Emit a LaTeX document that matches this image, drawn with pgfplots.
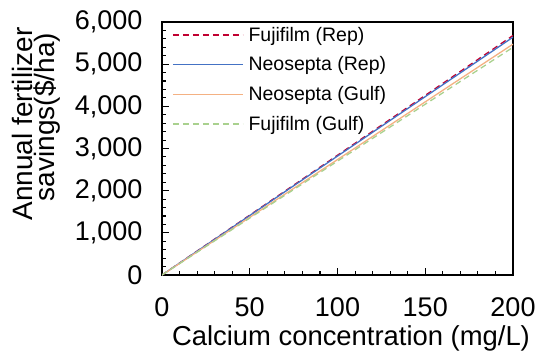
\documentclass[border=0pt]{standalone}
\usepackage{pgfplots}
\pgfplotsset{compat=1.18}
\usepackage{fontspec}
\setmainfont{Liberation Sans}
\definecolor{fujirep}{HTML}{C00030}
\definecolor{neorep}{HTML}{4472C4}
\definecolor{neogulf}{HTML}{F4B183}
\definecolor{fujigulf}{HTML}{A9D18E}
\begin{document}
\begin{tikzpicture}
\path[use as bounding box] (-162pt,-81pt) rectangle (375pt,275pt);
\begin{axis}[
  at={(0pt,0pt)}, anchor=south west,
  scale only axis, width=351pt, height=253pt,
  xmin=0, xmax=200, ymin=0, ymax=6000,
  xtick={0,50,...,200}, ytick={0,1000,...,6000},
  minor x tick num=4, minor y tick num=4,
  tick align=inside, xtick pos=bottom, ytick pos=left,
  major tick length=7pt, minor tick length=4pt,
  axis line style={line width=1.6pt},
  every tick/.style={black, line width=1.1pt},
  /pgf/number format/assume math mode=true,
  /pgf/number format/.cd, 1000 sep={,}, /pgfplots/.cd,
  tick label style={font=\fontsize{27}{30}\selectfont},
  yticklabel style={xshift=-16pt},
  xticklabel style={yshift=-19pt},
  legend style={draw=none, fill=none, at={(0.0,1.0)}, anchor=north west,
    font=\fontsize{19.5}{22}\selectfont, row sep=10pt, column sep=3pt, xshift=7pt, yshift=-1pt},
  legend cell align=left,
  legend image code/.code={\draw[#1] (0pt,0pt) -- (70pt,0pt);},
]
\addplot[fujirep, dashed, line width=1.3pt, dash pattern=on 6pt off 4pt] coordinates {(0,0) (200,5680)};
\addlegendentry{Fujifilm (Rep)}
\addplot[neorep, line width=1.3pt] coordinates {(0,0) (200,5640)};
\addlegendentry{Neosepta (Rep)}
\addplot[neogulf, line width=1.3pt] coordinates {(0,0) (200,5475)};
\addlegendentry{Neosepta (Gulf)}
\addplot[fujigulf, dashed, line width=1.3pt, dash pattern=on 6pt off 4pt] coordinates {(0,0) (200,5400)};
\addlegendentry{Fujifilm (Gulf)}
\end{axis}
\node[anchor=base, inner sep=0pt, font=\fontsize{27.4}{30}\selectfont] at (189pt,-70pt) {Calcium concentration (mg/L)};
\node[rotate=90, anchor=base, inner sep=0pt, font=\fontsize{28}{30}\selectfont] at (-129pt,151pt) {Annual fertilizer};
\node[rotate=90, anchor=base, inner sep=0pt, font=\fontsize{28}{30}\selectfont] at (-107pt,158pt) {savings(\$/ha)};
\end{tikzpicture}
\end{document}
